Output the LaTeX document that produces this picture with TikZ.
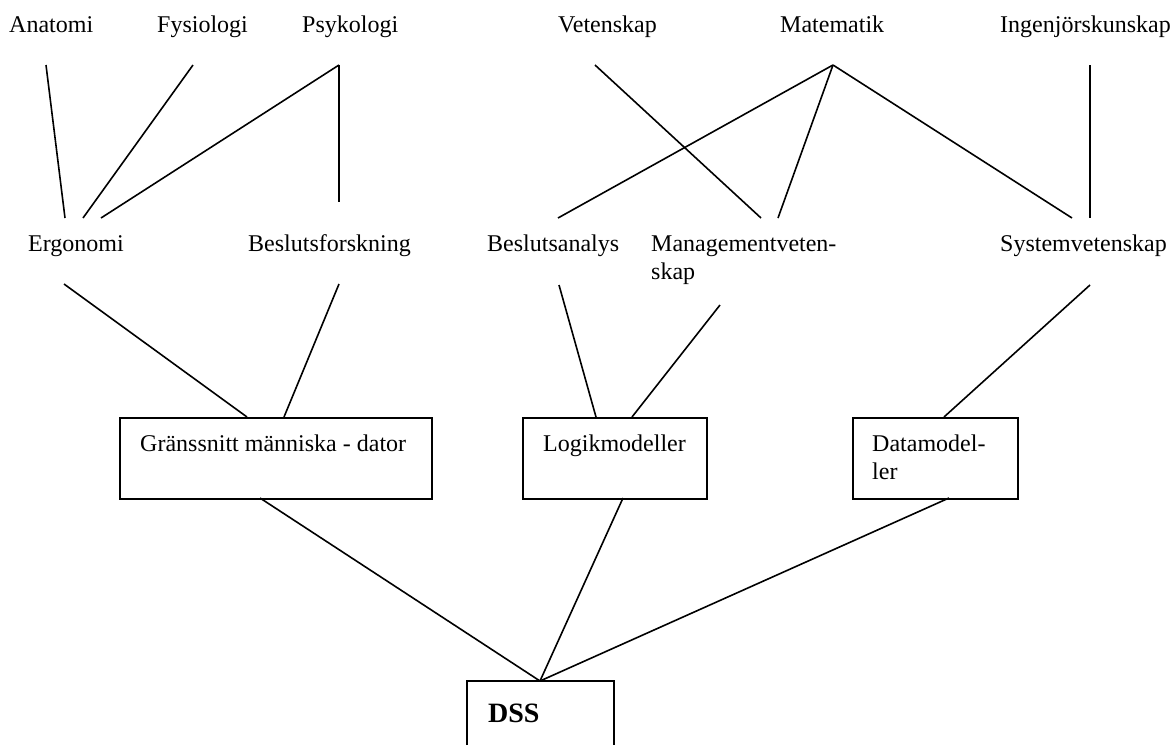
\documentclass[tikz,border=0pt]{standalone}
\usepackage{fontspec}
\setmainfont{Liberation Serif}
\begin{document}
\begin{tikzpicture}[x=1pt,y=-1pt,
  lbl/.style={anchor=base west,inner sep=0pt,font=\fontsize{24}{28}\selectfont},
  box/.style={draw,line width=1.7pt,anchor=north west,inner sep=0pt},
  conn/.style={line width=1.6pt}]
\useasboundingbox (0,0) rectangle (1173,745);
% top row
\node[lbl] (ana) at (9,32) {Anatomi};
\node[lbl] (fys) at (157,32) {Fysiologi};
\node[lbl] (psy) at (302,32) {Psykologi};
\node[lbl] (vet) at (558,32) {Vetenskap};
\node[lbl] (mat) at (780,32) {Matematik};
\node[lbl] (ing) at (1000,32) {Ingenjörskunskap};
% middle row
\node[lbl] (erg) at (28,251) {Ergonomi};
\node[lbl] (bfo) at (248,251) {Beslutsforskning};
\node[lbl] (ban) at (487,251) {Beslutsanalys};
\node[lbl] (man) at (651,251) {Managementveten-};
\node[lbl] (man2) at (651,279) {skap};
\node[lbl] (sys) at (1000,251) {Systemvetenskap};
% boxes
\node[box,minimum width=312pt,minimum height=81pt] (gr) at (119,417) {};
\node[lbl] (grt) at (140,451) {Gränssnitt människa - dator};
\node[box,minimum width=184pt,minimum height=81pt] (lo) at (522,417) {};
\node[lbl] (lot) at (543,451) {Logikmodeller};
\node[box,minimum width=165pt,minimum height=81pt] (da) at (852,417) {};
\node[lbl] (dat) at (872,451) {Datamodel-};
\node[lbl] (dat2) at (872,479) {ler};
% DSS
\node[lbl,font=\fontsize{28}{32}\selectfont\bfseries] (dss) at (488,722) {DSS};
\draw[line width=1.7pt] (467,745) -- (467,681) -- (614,681) -- (614,745);
% connector end points
\coordinate (anaB) at (46,65);
\coordinate (fysB) at (193,65);
\coordinate (psyB) at (339,65);
\coordinate (vetB) at (595,65);
\coordinate (matB) at (833,65);
\coordinate (ingB) at (1090,65);
\coordinate (ergT1) at (65,218);
\coordinate (ergT2) at (83,218);
\coordinate (ergT3) at (101,218);
\coordinate (bfoT) at (339,202);
\coordinate (banT) at (558,218);
\coordinate (manT1) at (761,218);
\coordinate (manT2) at (778,218);
\coordinate (sysT1) at (1072,218);
\coordinate (sysT2) at (1090,218);
\coordinate (ergB) at (64,284);
\coordinate (bfoB) at (339,284);
\coordinate (banB) at (559,285);
\coordinate (manB) at (720,305);
\coordinate (sysB) at (1090,285);
\coordinate (grT1) at (247,417);
\coordinate (grT2) at (284,417);
\coordinate (loT1) at (596,417);
\coordinate (loT2) at (632,417);
\coordinate (daT) at (944,417);
\coordinate (grB) at (260,498);
\coordinate (loB) at (623,498);
\coordinate (daB) at (949,498);
\coordinate (dssT) at (540,681);
% connectors
\draw[conn] (anaB) -- (ergT1);
\draw[conn] (fysB) -- (ergT2);
\draw[conn] (psyB) -- (ergT3);
\draw[conn] (psyB) -- (bfoT);
\draw[conn] (vetB) -- (manT1);
\draw[conn] (matB) -- (banT);
\draw[conn] (matB) -- (manT2);
\draw[conn] (matB) -- (sysT1);
\draw[conn] (ingB) -- (sysT2);
\draw[conn] (ergB) -- (grT1);
\draw[conn] (bfoB) -- (grT2);
\draw[conn] (banB) -- (loT1);
\draw[conn] (manB) -- (loT2);
\draw[conn] (sysB) -- (daT);
\draw[conn] (grB) -- (dssT);
\draw[conn] (loB) -- (dssT);
\draw[conn] (daB) -- (dssT);
\end{tikzpicture}
\end{document}
